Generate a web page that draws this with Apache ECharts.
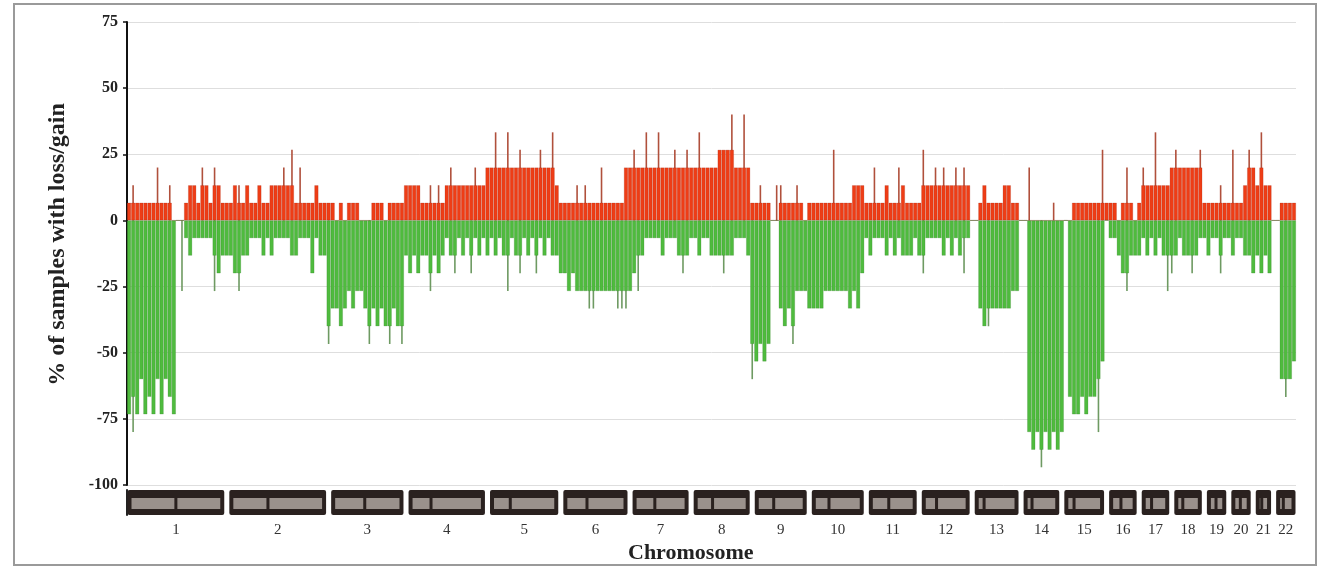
<!DOCTYPE html>
<html>
<head>
<meta charset="utf-8">
<script src="https://cdn.jsdelivr.net/npm/echarts@6/dist/echarts.min.js"></script>
<style>
  html, body { margin: 0; padding: 0; background: #fff; }
  #chart { width: 1319px; height: 568px; }
</style>
</head>
<body>
<div id="chart"></div>
<script>
// Chromosomes, genome bins per chromosome and p-arm fraction (centromere position)
const chromosomes = ['1','2','3','4','5','6','7','8','9','10','11','12','13','14','15','16','17','18','19','20','21','22'];
const binsPerChromosome = [24,24,18,19,17,16,14,14,13,13,12,12,11,9,10,7,7,7,5,5,4,5];
const centromere = [0.5,0.39,0.46,0.27,0.27,0.35,0.38,0.31,0.34,0.3,0.4,0.27,0.15,0.16,0.18,0.4,0.3,0.23,0.45,0.44,0.27,0.28];

// Y axis range (% of samples)
const yMin = -100, yMax = 75, yStep = 25;

// % of samples with gain per genome bin (each chromosome followed by one spacer bin)
const gain = [
  6.7,6.7,6.7,6.7,6.7,6.7,6.7,6.7,6.7,6.7,6.7,0,0,0,6.7,13.3,13.3,6.7,13.3,13.3,6.7,13.3,13.3,6.7, 6.7,
  6.7,13.3,6.7,6.7,13.3,6.7,6.7,13.3,6.7,6.7,13.3,13.3,13.3,13.3,13.3,13.3,6.7,6.7,6.7,6.7,6.7,13.3,6.7,6.7, 6.7,
  6.7,0,6.7,0,6.7,6.7,6.7,0,0,0,6.7,6.7,6.7,0,6.7,6.7,6.7,6.7, 13.3,
  13.3,13.3,13.3,6.7,6.7,6.7,6.7,6.7,6.7,13.3,13.3,13.3,13.3,13.3,13.3,13.3,13.3,13.3,13.3, 20,
  20,20,20,20,20,20,20,20,20,20,20,20,20,20,20,20,13.3, 6.7,
  6.7,6.7,6.7,6.7,6.7,6.7,6.7,6.7,6.7,6.7,6.7,6.7,6.7,6.7,6.7,20, 20,
  20,20,20,20,20,20,20,20,20,20,20,20,20,20, 20,
  20,20,20,20,20,20,26.7,26.7,26.7,26.7,20,20,20,20, 6.7,
  6.7,6.7,6.7,6.7,0,0,6.7,6.7,6.7,6.7,6.7,6.7,0, 6.7,
  6.7,6.7,6.7,6.7,6.7,6.7,6.7,6.7,6.7,6.7,13.3,13.3,13.3, 6.7,
  6.7,6.7,6.7,6.7,13.3,6.7,6.7,6.7,13.3,6.7,6.7,6.7, 6.7,
  13.3,13.3,13.3,13.3,13.3,13.3,13.3,13.3,13.3,13.3,13.3,13.3, 0,
  0,6.7,13.3,6.7,6.7,6.7,6.7,13.3,13.3,6.7,6.7, 0,
  0,0,0,0,0,0,0,0,0, 0,
  0,0,6.7,6.7,6.7,6.7,6.7,6.7,6.7,6.7, 6.7,
  6.7,6.7,0,6.7,6.7,6.7,0, 6.7,
  13.3,13.3,13.3,13.3,13.3,13.3,13.3, 20,
  20,20,20,20,20,20,20, 6.7,
  6.7,6.7,6.7,6.7,6.7, 6.7,
  6.7,6.7,6.7,13.3,20, 20,
  13.3,20,13.3,13.3, 0,
  0,6.7,6.7,6.7,6.7
];

// % of samples with loss per genome bin (negative values)
const loss = [
  -73.3,-66.7,-73.3,-60,-73.3,-66.7,-73.3,-60,-73.3,-60,-66.7,-73.3,0,0,-6.7,-13.3,-6.7,-6.7,-6.7,-6.7,-6.7,-13.3,-20,-13.3, -13.3,
  -13.3,-20,-20,-13.3,-13.3,-6.7,-6.7,-6.7,-13.3,-6.7,-13.3,-6.7,-6.7,-6.7,-6.7,-13.3,-13.3,-6.7,-6.7,-6.7,-20,-6.7,-13.3,-13.3, -40,
  -33.3,-33.3,-40,-33.3,-26.7,-33.3,-26.7,-26.7,-33.3,-40,-33.3,-40,-33.3,-40,-40,-33.3,-40,-40, -13.3,
  -20,-13.3,-20,-13.3,-13.3,-20,-13.3,-20,-13.3,-6.7,-13.3,-13.3,-6.7,-13.3,-6.7,-13.3,-6.7,-13.3,-6.7, -13.3,
  -6.7,-13.3,-6.7,-13.3,-13.3,-6.7,-13.3,-13.3,-6.7,-13.3,-6.7,-13.3,-6.7,-13.3,-6.7,-13.3,-13.3, -20,
  -20,-26.7,-20,-26.7,-26.7,-26.7,-26.7,-26.7,-26.7,-26.7,-26.7,-26.7,-26.7,-26.7,-26.7,-26.7, -26.7,
  -20,-13.3,-13.3,-6.7,-6.7,-6.7,-6.7,-13.3,-6.7,-6.7,-6.7,-13.3,-13.3,-13.3, -6.7,
  -6.7,-13.3,-6.7,-6.7,-13.3,-13.3,-13.3,-13.3,-13.3,-13.3,-6.7,-6.7,-6.7,-13.3, -46.7,
  -53.3,-46.7,-53.3,-46.7,0,0,-33.3,-40,-33.3,-40,-26.7,-26.7,-26.7, -33.3,
  -33.3,-33.3,-33.3,-26.7,-26.7,-26.7,-26.7,-26.7,-26.7,-33.3,-26.7,-33.3,-20, -6.7,
  -13.3,-6.7,-6.7,-6.7,-13.3,-6.7,-13.3,-6.7,-13.3,-13.3,-13.3,-6.7, -13.3,
  -13.3,-6.7,-6.7,-6.7,-6.7,-13.3,-6.7,-13.3,-6.7,-13.3,-6.7,-6.7, 0,
  0,-33.3,-40,-33.3,-33.3,-33.3,-33.3,-33.3,-33.3,-26.7,-26.7, 0,
  0,-80,-86.7,-80,-86.7,-80,-86.7,-80,-86.7, -80,
  0,-66.7,-73.3,-73.3,-66.7,-73.3,-66.7,-66.7,-60,-53.3, 0,
  -6.7,-6.7,-13.3,-20,-20,-13.3,-13.3, -13.3,
  -6.7,-13.3,-6.7,-13.3,-6.7,-13.3,-13.3, -13.3,
  -13.3,-6.7,-13.3,-13.3,-13.3,-13.3,-6.7, -6.7,
  -13.3,-6.7,-6.7,-13.3,-6.7, -6.7,
  -13.3,-6.7,-6.7,-13.3,-13.3, -20,
  -13.3,-20,-13.3,-20, 0,
  0,-60,-60,-60,-53.3
];

// Narrow single-probe peaks: [bin, %]
const gainPeaks = [
  [1,13.3],[7,20],[10,13.3],[18,20],[21,20],[27,13.3],[38,20],[40,26.7],[42,20],
  [74,13.3],[76,13.3],[79,20],[85,20],[90,33.3],[93,33.3],[96,26.7],[101,26.7],[104,33.3],
  [110,13.3],[112,13.3],[116,20],[124,26.7],[127,33.3],[130,33.3],[134,26.7],[137,26.7],[140,33.3],
  [148,40],[151,40],[155,13.3],[159,13.3],[160,13.3],[164,13.3],[173,26.7],[183,20],[189,20],
  [195,26.7],[198,20],[200,20],[203,20],[205,20],[221,20],[227,6.7],[239,26.7],[245,20],[249,20],
  [252,33.3],[257,26.7],[263,26.7],[268,13.3],[271,26.7],[275,26.7],[278,33.3]
];
const lossPeaks = [
  [1,-80],[13,-26.7],[21,-26.7],[27,-26.7],[49,-46.7],[59,-46.7],[64,-46.7],[67,-46.7],[74,-26.7],
  [80,-20],[84,-20],[93,-26.7],[96,-20],[100,-20],[113,-33.3],[114,-33.3],[120,-33.3],[121,-33.3],
  [122,-33.3],[125,-26.7],[136,-20],[146,-20],[153,-60],[163,-46.7],[195,-20],[205,-20],[211,-40],
  [224,-93.3],[238,-80],[245,-26.7],[255,-26.7],[256,-20],[261,-20],[268,-20],[284,-66.7]
];

// Build the bin categories and the span of every chromosome on the bin axis
const categories = [];
const spans = [];
let pos = 0;
chromosomes.forEach((c, i) => {
  const n = binsPerChromosome[i];
  spans.push([pos, pos + n - 1, centromere[i]]);
  for (let k = 0; k < n; k++) categories.push(c + '.' + (k + 1));
  pos += n;
  if (i < chromosomes.length - 1) { categories.push(c + '|' + chromosomes[i + 1]); pos += 1; }
});

const serif = '"Liberation Serif", "DejaVu Serif", serif';
const chart = echarts.init(document.getElementById('chart'), null, { renderer: 'canvas' });

chart.setOption({
  animation: false,
  backgroundColor: '#ffffff',
  title: {
    text: 'Chromosome',
    left: 623, top: 537,
    textStyle: { fontFamily: serif, fontWeight: 'bold', fontSize: 22, color: '#222' }
  },
  graphic: [{
    type: 'rect', silent: true, z: -10,
    shape: { x: 14, y: 4, width: 1302, height: 561 },
    style: { fill: 'none', stroke: '#9a9a9a', lineWidth: 2 }
  }],
  grid: [
    { left: 127, right: 23, top: 22, height: 463 },
    { left: 127, right: 23, top: 490, height: 25 }
  ],
  xAxis: [
    { type: 'category', gridIndex: 0, data: categories, show: false },
    { type: 'category', gridIndex: 0, data: categories, show: false },
    { type: 'category', gridIndex: 1, data: categories, show: false }
  ],
  yAxis: [
    {
      type: 'value', gridIndex: 0, min: yMin, max: yMax, interval: yStep,
      axisLine: { show: true, lineStyle: { color: '#111', width: 2 } },
      axisTick: { show: true, length: 4, lineStyle: { color: '#111', width: 1.5 } },
      axisLabel: { margin: 9, fontFamily: serif, fontWeight: 'bold', fontSize: 16, color: '#222' },
      splitLine: { show: true, lineStyle: { color: '#dedede', width: 1 } },
      name: '% of samples with loss/gain',
      nameLocation: 'middle', nameGap: 57,
      nameTextStyle: { fontFamily: serif, fontWeight: 'bold', fontSize: 24, color: '#222', padding: [0, 0, 0, 18] }
    },
    {
      type: 'value', gridIndex: 1, min: 0, max: 1,
      axisLine: { show: true, lineStyle: { color: '#222', width: 2 } },
      axisTick: { show: false }, axisLabel: { show: false }, splitLine: { show: false }
    }
  ],
  series: [
    {
      name: 'gain peaks', type: 'bar', xAxisIndex: 1, yAxisIndex: 0,
      data: gainPeaks, barWidth: 1.6, z: 1,
      itemStyle: { color: '#b0503c' }
    },
    {
      name: 'loss peaks', type: 'bar', xAxisIndex: 1, yAxisIndex: 0,
      data: lossPeaks, barWidth: 1.6, barGap: '-100%', z: 1,
      itemStyle: { color: '#6e9a62' }
    },
    {
      name: 'gain', type: 'bar', xAxisIndex: 0, yAxisIndex: 0,
      data: gain, barCategoryGap: '0%', barGap: '-100%', z: 2,
      itemStyle: { color: '#ee3d16', borderColor: 'rgba(150,35,15,0.35)', borderWidth: 0.6 }
    },
    {
      name: 'loss', type: 'bar', xAxisIndex: 0, yAxisIndex: 0,
      data: loss, barCategoryGap: '0%', barGap: '-100%', z: 2,
      itemStyle: { color: '#4fbb3e', borderColor: 'rgba(40,110,30,0.35)', borderWidth: 0.6 }
    },
    {
      name: 'ideogram', type: 'custom', xAxisIndex: 2, yAxisIndex: 1, clip: false,
      data: spans,
      renderItem: function (params, api) {
        const a = api.coord([api.value(0), 1]);
        const b = api.coord([api.value(1), 0]);
        const bw = api.size([1, 0])[0];
        const x0 = a[0] - bw / 2 + 0.5;
        const x1 = b[0] + bw / 2 - 0.5;
        const top = a[1], h = b[1] - a[1];
        const cx = x0 + 4 + (x1 - x0 - 8) * api.value(2);
        const bandTop = top + 8, bandH = h - 14;
        return {
          type: 'group',
          children: [
            { type: 'rect', shape: { x: x0, y: top, width: x1 - x0, height: h, r: 2 }, style: { fill: '#2a211f' } },
            { type: 'rect', shape: { x: x0 + 4, y: bandTop, width: Math.max(cx - x0 - 5.5, 0.5), height: bandH }, style: { fill: '#9a918c' } },
            { type: 'rect', shape: { x: cx + 1.5, y: bandTop, width: Math.max(x1 - 4 - cx - 1.5, 0.5), height: bandH }, style: { fill: '#9a918c' } },
            { type: 'text', style: { text: chromosomes[params.dataIndex], x: (x0 + x1) / 2, y: top + h + 15,
                align: 'center', verticalAlign: 'middle', fill: '#333', font: '15px ' + serif } }
          ]
        };
      }
    }
  ]
});
</script>
</body>
</html>
